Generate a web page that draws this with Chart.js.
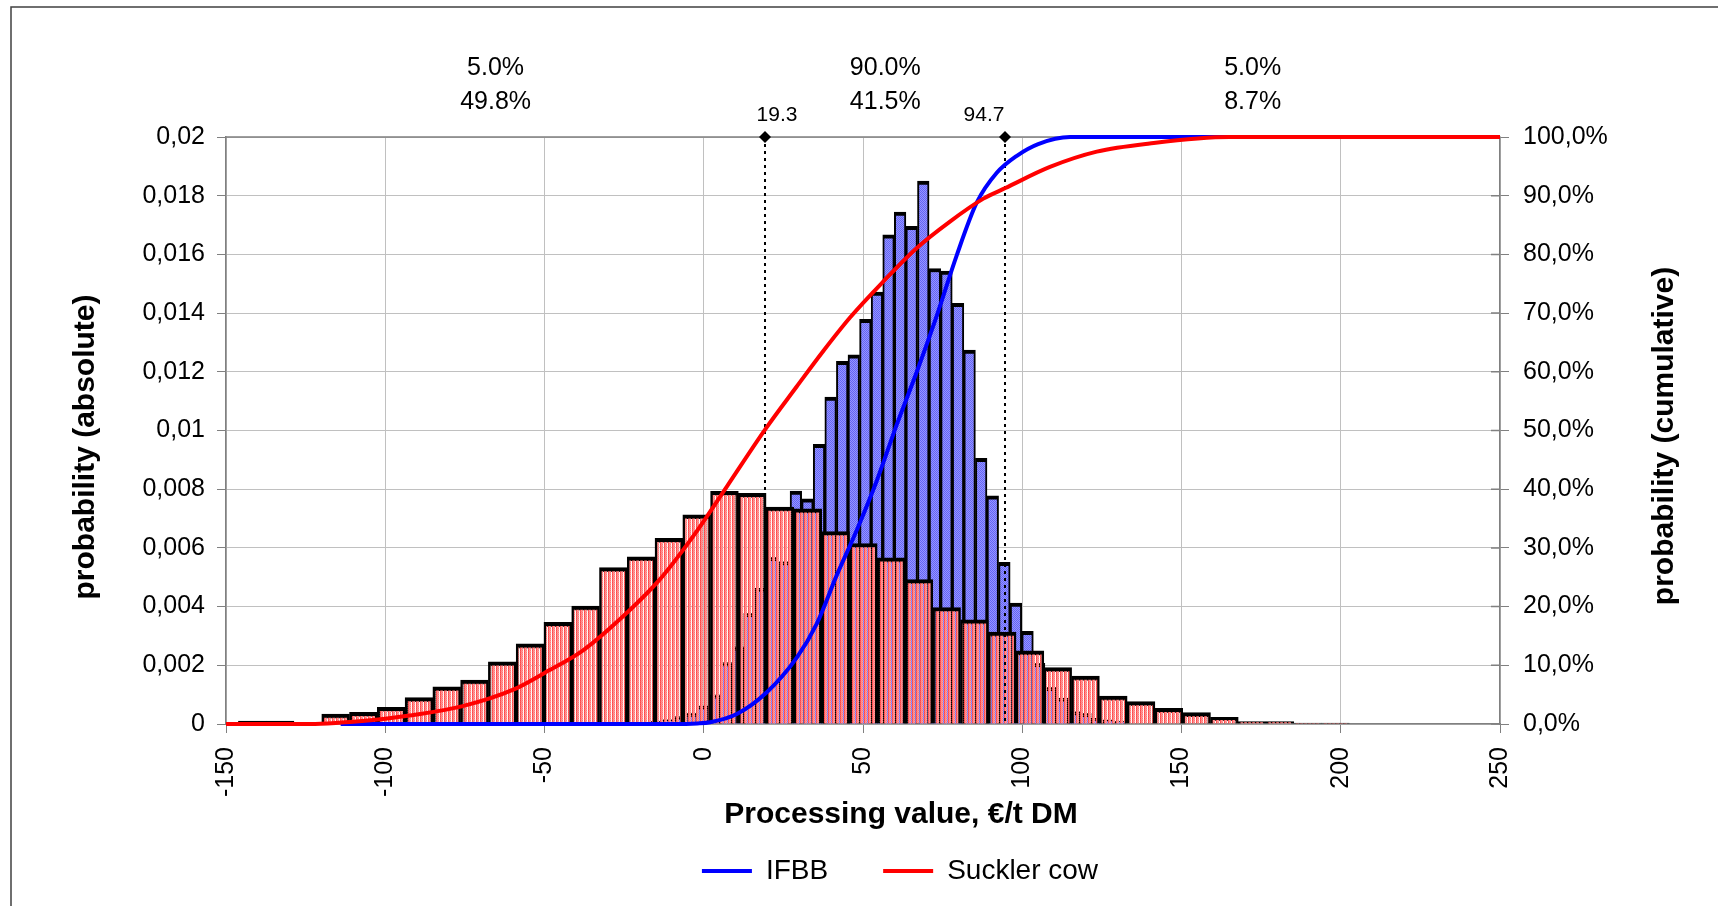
<!DOCTYPE html>
<html>
<head>
<meta charset="utf-8">
<script src="https://cdn.jsdelivr.net/npm/chart.js@4.4.1/dist/chart.umd.min.js"></script>
<style>
  html, body { margin: 0; padding: 0; background: #fff; }
  canvas { display: block; }
</style>
</head>
<body>
<canvas id="chart" width="1718" height="906"></canvas>
<script>
// Suckler cow histogram (bins of equal width, first bin starts at suckBinStart)
const suckBinStart = -146.1;
const suckBinWidth = 8.72;
const suckDensity = [
  0.0001, 0.0001, 0, 0.00034, 0.0004, 0.00057, 0.0009, 0.00127, 0.0015, 0.00212,
  0.00273, 0.00346, 0.00402, 0.00533, 0.0057, 0.00633, 0.00713, 0.00793, 0.00786, 0.00739,
  0.00733, 0.00656, 0.00615, 0.00566, 0.00492, 0.00397, 0.00355, 0.00313, 0.00249, 0.00192,
  0.00163, 0.00095, 0.00076, 0.00053, 0.00039, 0.00023, 0.00008, 0.00008, 0.00003, 0.00003
];

// IFBB histogram
const ifbbBinStart = -20.18;
const ifbbBinWidth = 3.637;
const ifbbDensity = [
  0.00005, 0.0001, 0.00015, 0.00025, 0.00037, 0.00062, 0.00099, 0.00209, 0.00263, 0.00377,
  0.00462, 0.00568, 0.00553, 0.00794, 0.00767, 0.00953, 0.01114, 0.01236, 0.01258, 0.01379,
  0.01472, 0.01667, 0.01744, 0.01696, 0.0185, 0.01552, 0.01543, 0.01433, 0.01274, 0.00905,
  0.00777, 0.00551, 0.00412, 0.00316, 0.00207, 0.00125, 0.00088, 0.00042, 0.00036, 0.00019,
  0.00014, 0.0001
];

// cumulative curves (x in €/t DM, y in %)
const ifbbCdfX = [-114, -10, -2, 2, 10.4, 19.8, 29.2, 35.5, 41.8, 48.1, 54.3, 60.6, 66.9, 73.2, 79.4, 85.7, 92, 98.3, 105, 115, 250];
const ifbbCdfY = [0, 0, 0.1, 0.3, 1.7, 5.4, 11.3, 17.1, 25.4, 33.1, 41.4, 51.0, 60.0, 69.6, 79.8, 88.8, 93.9, 96.8, 98.8, 100, 100];
const suckCdfX = [-150, -122, -110, -100, -93, -76, -60, -50, -38, -26, -14, -2, 7.3, 19.3, 29.2, 37.6, 46, 56.4, 66.9, 77.3, 87.8, 94.7, 108.7, 123.4, 140, 165, 250];
const suckCdfY = [0, 0, 0.4, 0.9, 1.4, 3.0, 5.8, 8.7, 12.5, 18.0, 24.5, 33.0, 40.5, 50.2, 57.5, 63.6, 69.3, 75.4, 81.1, 85.6, 89.5, 91.3, 94.9, 97.5, 98.9, 100, 100];

// axis ticks
const xTicks = [-150, -100, -50, 0, 50, 100, 150, 200, 250];
const yTicks = [0, 0.002, 0.004, 0.006, 0.008, 0.01, 0.012, 0.014, 0.016, 0.018, 0.02];
const y2Ticks = [0, 10, 20, 30, 40, 50, 60, 70, 80, 90, 100];

// 5% / 95% markers and the shares in each region
const cutoffs = [19.3, 94.7];
const cutoffLabels = ['19.3', '94.7'];
const ifbbShares = ['5.0%', '90.0%', '5.0%'];
const suckShares = ['49.8%', '41.5%', '8.7%'];

const FONT = '"Liberation Sans", Arial, sans-serif';

function binPoints(start, width, values) {
  return values.map((v, i) => ({ x: start + (i + 0.5) * width, y: v }));
}

function linePoints(xs, ys) {
  return xs.map((x, i) => ({ x: x, y: ys[i] }));
}

function makePattern(rows) {
  const c = document.createElement('canvas');
  c.width = rows[0].length;
  c.height = rows.length;
  const g = c.getContext('2d');
  rows.forEach((row, y) => row.forEach((col, x) => {
    g.fillStyle = col;
    g.fillRect(x, y, 1, 1);
  }));
  return g.createPattern(c, 'repeat');
}

const redFill = makePattern([
  ['rgb(255,70,70)', 'rgb(255,150,150)', 'rgb(255,120,120)', 'rgba(255,255,255,0)'],
  ['rgb(255,95,95)', 'rgb(255,130,130)', 'rgb(255,160,160)', 'rgba(255,180,180,0.25)']
]);
const blueFill = makePattern([
  ['rgb(100,100,245)', 'rgb(150,150,255)'],
  ['rgb(150,150,255)', 'rgb(100,100,245)']
]);

function fixTicks(values) {
  return (scale) => { scale.ticks = values.map(v => ({ value: v })); };
}

const overlay = {
  id: 'overlay',
  beforeDraw(chart) {
    const ctx = chart.ctx;
    ctx.save();
    ctx.fillStyle = '#fff';
    ctx.fillRect(0, 0, chart.width, chart.height);
    ctx.strokeStyle = '#404040';
    ctx.lineWidth = 1.5;
    ctx.beginPath();
    ctx.moveTo(11, chart.height);
    ctx.lineTo(11, 7);
    ctx.lineTo(chart.width, 7);
    ctx.stroke();
    ctx.restore();
  },
  beforeDatasetsDraw(chart) {
    const { ctx, chartArea } = chart;
    const y2 = chart.scales.y2;
    ctx.save();
    ctx.strokeStyle = '#808080';
    ctx.lineWidth = 1.5;
    ctx.beginPath();
    ctx.moveTo(chartArea.left, chartArea.top);
    ctx.lineTo(chartArea.right, chartArea.top);
    y2Ticks.forEach(v => {
      const py = y2.getPixelForValue(v);
      ctx.moveTo(chartArea.right - 9, py);
      ctx.lineTo(chartArea.right, py);
    });
    ctx.stroke();
    ctx.restore();
  },
  afterDatasetDraw(chart, args) {
    if (args.index !== 2) return;
    const { ctx, chartArea } = chart;
    const xs = chart.scales.x;
    ctx.save();
    ctx.strokeStyle = '#000';
    ctx.lineWidth = 2;
    ctx.setLineDash([3, 4]);
    cutoffs.forEach(v => {
      const px = Math.round(xs.getPixelForValue(v));
      ctx.beginPath();
      ctx.moveTo(px, chartArea.top);
      ctx.lineTo(px, chartArea.bottom);
      ctx.stroke();
    });
    ctx.restore();
  },
  afterDraw(chart) {
    const { ctx, chartArea } = chart;
    const xs = chart.scales.x;
    ctx.save();
    ctx.fillStyle = '#000';

    // diamonds and cutoff values
    const shift = [12, -21];
    ctx.font = '21px ' + FONT;
    ctx.textAlign = 'center';
    ctx.textBaseline = 'middle';
    cutoffs.forEach((v, i) => {
      const px = Math.round(xs.getPixelForValue(v));
      const py = chartArea.top;
      ctx.beginPath();
      ctx.moveTo(px, py - 6);
      ctx.lineTo(px + 6, py);
      ctx.lineTo(px, py + 6);
      ctx.lineTo(px - 6, py);
      ctx.closePath();
      ctx.fill();
      ctx.fillText(cutoffLabels[i], px + shift[i], 115);
    });

    // shares above the plot
    const edges = [xs.min].concat(cutoffs, [xs.max]);
    ctx.font = '25px ' + FONT;
    for (let i = 0; i < 3; i++) {
      const cx = (xs.getPixelForValue(edges[i]) + xs.getPixelForValue(edges[i + 1])) / 2;
      ctx.fillText(ifbbShares[i], cx, 68);
      ctx.fillText(suckShares[i], cx, 102);
    }

    // axis titles
    ctx.font = 'bold 30px ' + FONT;
    ctx.textBaseline = 'alphabetic';
    ctx.fillText('Processing value, €/t DM', (chartArea.left + chartArea.right) / 2 + 38, 823);
    ctx.textBaseline = 'middle';
    ctx.translate(86, 447);
    ctx.rotate(-Math.PI / 2);
    ctx.fillText('probability (absolute)', 0, 0);
    ctx.setTransform(1, 0, 0, 1, 0, 0);
    ctx.translate(1665, 436);
    ctx.rotate(-Math.PI / 2);
    ctx.fillText('probability (cumulative)', 0, 0);
    ctx.restore();
  }
};

Chart.defaults.font.family = FONT;
Chart.defaults.color = '#000';

new Chart(document.getElementById('chart'), {
  type: 'bar',
  data: {
    datasets: [
      {
        type: 'line',
        label: 'IFBB',
        data: linePoints(ifbbCdfX, ifbbCdfY),
        xAxisID: 'x',
        yAxisID: 'y2',
        borderColor: '#0000ff',
        backgroundColor: '#0000ff',
        borderWidth: 4,
        pointRadius: 0,
        cubicInterpolationMode: 'monotone',
        clip: 6,
        order: 2
      },
      {
        type: 'line',
        label: 'Suckler cow',
        data: linePoints(suckCdfX, suckCdfY),
        xAxisID: 'x',
        yAxisID: 'y2',
        borderColor: '#ff0000',
        backgroundColor: '#ff0000',
        borderWidth: 4,
        pointRadius: 0,
        cubicInterpolationMode: 'monotone',
        clip: 6,
        order: 1
      },
      {
        label: 'Suckler cow histogram',
        data: binPoints(suckBinStart, suckBinWidth, suckDensity),
        xAxisID: 'x',
        yAxisID: 'y',
        backgroundColor: redFill,
        borderColor: '#000',
        borderWidth: { top: 4, left: 2.5, right: 2.5, bottom: 0 },
        barPercentage: 1,
        categoryPercentage: 1,
        grouped: false,
        order: 3
      },
      {
        label: 'IFBB histogram',
        data: binPoints(ifbbBinStart, ifbbBinWidth, ifbbDensity),
        xAxisID: 'x2',
        yAxisID: 'y',
        backgroundColor: blueFill,
        borderColor: '#000',
        borderWidth: { top: 4, left: 2, right: 2, bottom: 0 },
        barPercentage: 1,
        categoryPercentage: 1,
        grouped: false,
        order: 4
      }
    ]
  },
  options: {
    responsive: false,
    animation: false,
    devicePixelRatio: 1,
    events: [],
    layout: { padding: { top: 137, left: 82, right: 0, bottom: 11 } },
    scales: {
      x: {
        type: 'linear',
        position: 'bottom',
        min: -150,
        max: 250,
        offset: false,
        afterBuildTicks: fixTicks(xTicks),
        afterFit: (s) => { s.height = 78; },
        grid: { offset: false, color: '#c0c0c0', tickColor: '#808080', tickLength: 9 },
        border: { color: '#808080', width: 1.5 },
        ticks: {
          autoSkip: false,
          minRotation: 90,
          maxRotation: 90,
          padding: 14,
          font: { size: 25 },
          callback: (v) => String(v)
        }
      },
      x2: {
        type: 'linear',
        position: 'bottom',
        min: -150,
        max: 250,
        offset: false,
        display: false,
        grid: { offset: false },
        afterBuildTicks: fixTicks(xTicks)
      },
      y: {
        type: 'linear',
        position: 'left',
        min: 0,
        max: 0.02,
        afterBuildTicks: fixTicks(yTicks),
        afterFit: (s) => { s.width = 144; },
        grid: { color: '#c0c0c0', tickColor: '#808080', tickLength: 9 },
        border: { color: '#808080', width: 1.5 },
        ticks: {
          padding: 12,
          font: { size: 25 },
          callback: (v) => v === 0 ? '0' : String(+v.toFixed(3)).replace('.', ',')
        }
      },
      y2: {
        type: 'linear',
        position: 'right',
        min: 0,
        max: 100,
        afterBuildTicks: fixTicks(y2Ticks),
        afterFit: (s) => { s.width = 218; },
        grid: { drawOnChartArea: false, tickColor: '#808080', tickLength: 9 },
        border: { color: '#808080', width: 1.5 },
        ticks: {
          padding: 14,
          font: { size: 25 },
          callback: (v) => v.toFixed(1).replace('.', ',') + '%'
        }
      }
    },
    plugins: {
      tooltip: { enabled: false },
      legend: {
        position: 'bottom',
        labels: {
          font: { size: 28 },
          color: '#000',
          usePointStyle: true,
          pointStyle: 'line',
          pointStyleWidth: 50,
          padding: 55,
          filter: (item) => item.datasetIndex < 2,
          sort: (a, b) => a.datasetIndex - b.datasetIndex
        }
      }
    }
  },
  plugins: [overlay]
});
</script>
</body>
</html>
